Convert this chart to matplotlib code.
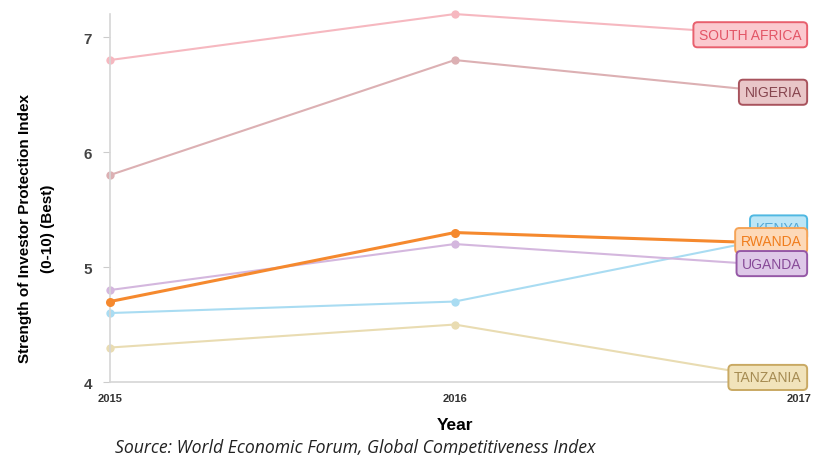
import matplotlib
matplotlib.use("Agg")
import matplotlib.pyplot as plt

years = [2015, 2016, 2017]
countries = ["SOUTH AFRICA", "NIGERIA", "KENYA", "RWANDA", "UGANDA", "TANZANIA"]
south_africa = [6.8, 7.2, 7.0]
nigeria = [5.8, 6.8, 6.5]
kenya = [4.6, 4.7, 5.3]
rwanda = [4.7, 5.3, 5.2]
uganda = [4.8, 5.2, 5.0]
tanzania = [4.3, 4.5, 4.0]
series = [south_africa, nigeria, kenya, rwanda, uganda, tanzania]

line_colors = ["#f6b8c0", "#dcb0b3", "#a9dcf2", "#f5892e", "#d4b7de", "#e9dcb2"]
box_fill = ["#fbc9cf", "#e9c6c8", "#bde6f6", "#fdd9b8", "#dec8e8", "#f1e3bb"]
box_edge = ["#e8606e", "#a8535d", "#4fb8e2", "#f5a356", "#9558a6", "#c9a963"]
text_col = ["#e35566", "#87464f", "#55a9d6", "#f07d1c", "#874a98", "#a58b52"]
line_w = [1.5, 1.5, 1.5, 2.2, 1.5, 1.5]
label_y = [7.02, 6.52, 5.34, 5.23, 5.03, 4.04]

fig = plt.figure(figsize=(8.17, 4.56), dpi=100)
ax = fig.add_axes([0.1346, 0.160, 0.844, 0.807])

order = [5, 2, 4, 1, 0, 3]
for i in order:
    ax.plot(years, series[i], color=line_colors[i], lw=line_w[i], marker="o",
            markersize=6.5 if i == 3 else 6, markerfacecolor=line_colors[i],
            markeredgecolor="none", zorder=2 + (1 if i == 3 else 0), clip_on=False)

for i in range(len(countries)):
    ax.text(2017.006, label_y[i], countries[i], ha="right", va="center",
            fontsize=10, color=text_col[i], family="Liberation Sans",
            bbox=dict(boxstyle="round,pad=0.4,rounding_size=0.3", fc=box_fill[i],
                      ec=box_edge[i], lw=1.4), zorder=5, clip_on=False)

ax.set_xlim(2015, 2017)
ax.set_ylim(4, 7.2)
ax.set_xticks(years)
ax.set_xticklabels([str(y) for y in years], fontsize=8, fontweight="bold",
                   color="#333333", family="Liberation Sans")
ax.set_yticks([4, 5, 6, 7])
ax.set_yticklabels(["4", "5", "6", "7"], fontsize=11, color="#444444",
                   family="Liberation Sans", fontweight="bold")
ax.tick_params(axis="y", length=5, color="#cccccc", pad=8)
ax.tick_params(axis="x", length=0, pad=8)
for s in ["top", "right"]:
    ax.spines[s].set_visible(False)
ax.spines["left"].set_color("#d6d6d6")
ax.spines["bottom"].set_color("#d6d6d6")
ax.spines["left"].set_linewidth(1.2)
ax.spines["bottom"].set_linewidth(1.2)

ax.set_ylabel("Strength of Investor Protection Index\n(0-10) (Best)", fontsize=11,
              fontweight="bold", family="Liberation Sans", linespacing=1.8)
ax.yaxis.set_label_coords(-0.08, 0.42)
ax.set_xlabel("Year", fontsize=12.5, fontweight="bold", family="Liberation Sans", labelpad=10)
fig.text(0.141, 0.006, "Source: World Economic Forum, Global Competitiveness Index",
         fontsize=12.7, style="italic", color="#222222", family="Open Sans")

fig.savefig("out.png", dpi=100)
